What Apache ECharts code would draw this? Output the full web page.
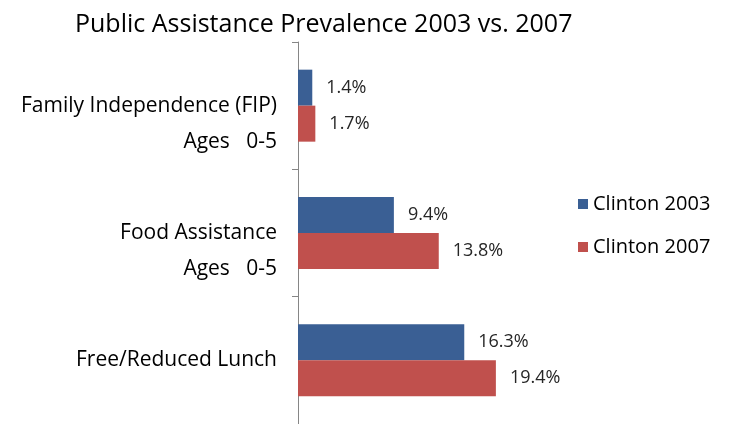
<!DOCTYPE html>
<html>
<head>
<meta charset="utf-8">
<script src="https://cdn.jsdelivr.net/npm/echarts@6/dist/echarts.min.js"></script>
<style>
  html, body { margin: 0; padding: 0; background: #fff; }
  #chart { width: 732px; height: 424px; }
</style>
</head>
<body>
<div id="chart"></div>
<script>
// category names, with the optional second line shown under them
const categories = ['Family Independence (FIP)', 'Food Assistance', 'Free/Reduced Lunch'];
const subLabels = ['Ages   0-5', 'Ages   0-5', ''];
const seriesNames = ['Clinton 2003', 'Clinton 2007'];
const clinton2003 = [1.4, 9.4, 16.3];
const clinton2007 = [1.7, 13.8, 19.4];

const FONT = '"Open Sans"';

const chart = echarts.init(document.getElementById('chart'));

const barLabel = {
  show: true,
  position: 'right',
  distance: 14,
  color: '#262626',
  fontFamily: FONT,
  fontSize: 18,
  formatter: p => p.value.toFixed(1) + '%'
};

const option = {
  animation: false,
  title: {
    text: 'Public Assistance Prevalence 2003 vs. 2007',
    left: 70,
    top: 7,
    textStyle: {fontFamily: FONT, fontSize: 25, fontWeight: 'normal', color: '#000'}
  },
  legend: {
    orient: 'vertical',
    left: 573,
    top: 189,
    itemWidth: 10,
    itemHeight: 10,
    itemGap: 23,
    icon: 'rect',
    textStyle: {fontFamily: FONT, fontSize: 20, color: '#000'}
  },
  grid: {left: 298, top: 42, width: 255, height: 384},
  xAxis: {
    type: 'value',
    min: 0,
    max: 25,
    show: false
  },
  yAxis: {
    type: 'category',
    inverse: true,
    data: categories,
    axisLine: {lineStyle: {color: '#868686', width: 1}},
    axisTick: {show: true, length: 6, lineStyle: {color: '#868686'}},
    axisLabel: {
      margin: 21,
      fontFamily: FONT,
      fontSize: 21,
      color: '#000',
      lineHeight: 36,
      formatter: (value, idx) => subLabels[idx] ? '\n' + value + '\n' + subLabels[idx] : value
    }
  },
  series: [
    {
      name: seriesNames[0],
      type: 'bar',
      data: clinton2003,
      barWidth: 36,
      barGap: '0%',
      itemStyle: {color: '#3A5F94'},
      label: barLabel
    },
    {
      name: seriesNames[1],
      type: 'bar',
      data: clinton2007,
      barWidth: 36,
      itemStyle: {color: '#C0504D'},
      label: barLabel
    }
  ]
};

chart.setOption(option);
</script>
</body>
</html>
